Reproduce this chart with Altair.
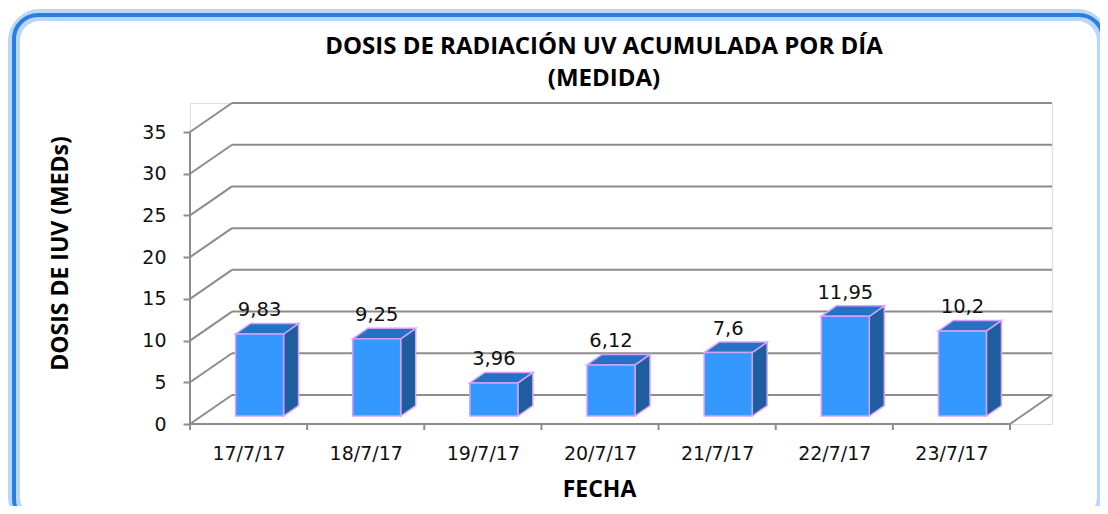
import altair as alt
import pandas as pd

# ---- data ----
fechas = ["17/7/17", "18/7/17", "19/7/17", "20/7/17", "21/7/17", "22/7/17", "23/7/17"]
dosis = [9.83, 9.25, 3.96, 6.12, 7.6, 11.95, 10.2]
etiquetas = ["9,83", "9,25", "3,96", "6,12", "7,6", "11,95", "10,2"]
y_ticks = [0, 5, 10, 15, 20, 25, 30, 35]

titulo = ["DOSIS DE RADIACIÓN UV ACUMULADA POR DÍA", "(MEDIDA)"]
titulo_y = "DOSIS DE IUV (MEDs)"
titulo_x = "FECHA"

# ---- geometry / style constants (pixels) ----
W, H = 862, 321          # plot area incl. the 3D depth
FRONT_W = 820            # width of front plane
FRONT_H = 292            # height of 0..35 on front plane
N = len(fechas)
YTOP = y_ticks[-1]
PXU = FRONT_W / N        # px per x unit
PYU = FRONT_H / YTOP     # px per y unit
XMAX = W / PXU
YMAX = H / PYU

DEPTH_X, DEPTH_Y = 42, 29
dxw, dyw = DEPTH_X / PXU, DEPTH_Y / PYU
BAR_W, BAR_DX, BAR_DY = 48, 11, 8
SIDE_DX, SIDE_DY = 15, 10.5
hw = BAR_W / 2 / PXU
bdx, bdy = BAR_DX / PXU, BAR_DY / PYU
sdx, sdy = SIDE_DX / PXU, SIDE_DY / PYU
TICK_LEN = 6 / PYU

GRID = "#8c8c8c"
FRONT = "#3399ff"
SIDE = "#1f5e9e"
TOP = "#2672c2"
EDGE = "#d7a0ff"
FONT_NUM = "DejaVu Sans"
FONT_T = "Open Sans"

SX = alt.Scale(domain=[0, XMAX], nice=False, zero=False)
SY = alt.Scale(domain=[0, YMAX], nice=False, zero=False)

label_expr = "[" + ",".join("'%s'" % f for f in fechas) + "][round(datum.value - 0.5)]"
AX = alt.Axis(values=[i + 0.5 for i in range(N)], labelExpr=label_expr, tickSize=0,
              domain=False, grid=False, labelFont=FONT_NUM, labelFontSize=19,
              labelColor="#111", labelPadding=20, title=titulo_x, titleFont=FONT_T,
              titleFontSize=23, titleFontWeight="bold", titleColor="#000",
              titleX=409, titleY=65, titleAlign="center", titleBaseline="middle",
              zindex=2)
AY = alt.Axis(values=y_ticks, tickSize=7, tickColor=GRID, tickWidth=2, domain=False,
              grid=False, labelFont=FONT_NUM, labelFontSize=19, labelColor="#111",
              labelPadding=17, title=titulo_y, titleFont=FONT_T, titleFontSize=23,
              titleFontWeight="bold", titleColor="#000", titleAngle=270,
              titleX=-130, titleY=150, titleAlign="center", titleBaseline="middle",
              zindex=2)


def X(f):
    return alt.X(f, type="quantitative", scale=SX, axis=AX)


def Y(f):
    return alt.Y(f, type="quantitative", scale=SY, axis=AY)


# ---- tables ----
grid_df = pd.DataFrame({"x": [dxw] * len(y_ticks), "x2": [N + dxw] * len(y_ticks),
                        "y": [v + dyw for v in y_ticks]})
wall_df = pd.DataFrame({"x": [0.0] * len(y_ticks), "x2": [dxw] * len(y_ticks),
                        "y": [float(v) for v in y_ticks], "y2": [v + dyw for v in y_ticks]})
floor_df = pd.DataFrame({"x": [float(N)], "x2": [N + dxw], "y": [0.0], "y2": [dyw]})
yaxis_df = pd.DataFrame({"x": [0.0], "y": [0.0], "y2": [float(YTOP)]})
xaxis_df = pd.DataFrame({"x": [0.0], "x2": [float(N)], "y": [0.0]})
xtick_df = pd.DataFrame({"x": [float(i) for i in range(N + 1)], "y": [0.0] * (N + 1),
                         "y2": [-TICK_LEN] * (N + 1)})

front_rows, side_rows, top_rows, lab_rows = [], [], [], []
for i, (f, v, t) in enumerate(zip(fechas, dosis, etiquetas)):
    cx = i + 0.5 + bdx
    front_rows.append({"fecha": f, "x": cx - hw, "x2": cx + hw, "y": bdy, "y2": v + bdy})
    side_rows.append({"fecha": f, "x": cx + hw, "y": bdy, "y2": v + bdy})
    side_rows.append({"fecha": f, "x": cx + hw + sdx, "y": bdy + sdy, "y2": v + bdy + sdy})
    top_rows.append({"fecha": f, "y": v + bdy, "x": cx - hw, "x2": cx + hw})
    top_rows.append({"fecha": f, "y": v + bdy + sdy, "x": cx - hw + sdx, "x2": cx + hw + sdx})
    lab_rows.append({"fecha": f, "x": cx, "y": v + bdy + sdy, "t": t})
front_df = pd.DataFrame(front_rows)
side_df = pd.DataFrame(side_rows)
top_df = pd.DataFrame(top_rows)
lab_df = pd.DataFrame(lab_rows)

# ---- layers ----
one = pd.DataFrame({"a": [0]})
frame_glow = alt.Chart(one).mark_rect(
    filled=False, stroke="#9cc6f7", strokeWidth=12, strokeOpacity=0.7, cornerRadius=26
).encode(x=alt.value(-176), x2=alt.value(913), y=alt.value(-88), y2=alt.value(420))
frame = alt.Chart(one).mark_rect(
    filled=False, stroke="#2b7de0", strokeWidth=4, cornerRadius=24
).encode(x=alt.value(-176), x2=alt.value(913), y=alt.value(-88), y2=alt.value(420))

title_style = dict(font=FONT_T, fontSize=24, fontWeight="bold", color="#000",
                   align="center", baseline="alphabetic")
title1 = alt.Chart(one).mark_text(text=titulo[0], **title_style).encode(
    x=alt.value(414), y=alt.value(-49))
title2 = alt.Chart(one).mark_text(text=titulo[1], **title_style).encode(
    x=alt.value(414), y=alt.value(-17))

grid = alt.Chart(grid_df).mark_rule(color=GRID, strokeWidth=2).encode(
    x=X("x"), x2="x2", y=Y("y"))
wall = alt.Chart(wall_df).mark_rule(color=GRID, strokeWidth=2).encode(
    x=X("x"), x2="x2", y=Y("y"), y2="y2")
floor = alt.Chart(floor_df).mark_rule(color=GRID, strokeWidth=2).encode(
    x=X("x"), x2="x2", y=Y("y"), y2="y2")
yaxis = alt.Chart(yaxis_df).mark_rule(color=GRID, strokeWidth=2).encode(
    x=X("x"), y=Y("y"), y2="y2")
xaxis = alt.Chart(xaxis_df).mark_rule(color=GRID, strokeWidth=2).encode(
    x=X("x"), x2="x2", y=Y("y"))
xticks = alt.Chart(xtick_df).mark_rule(color=GRID, strokeWidth=2).encode(
    x=X("x"), y=Y("y"), y2="y2")

side = alt.Chart(side_df).mark_area(orient="vertical", color=SIDE, fill=SIDE, opacity=1,
                                    stroke=EDGE, strokeWidth=1.5).encode(
    x=X("x"), y=Y("y"), y2="y2", detail="fecha:N")
top = alt.Chart(top_df).mark_area(orient="horizontal", color=TOP, fill=TOP, opacity=1,
                                  stroke=EDGE, strokeWidth=1.5).encode(
    y=Y("y"), x=X("x"), x2="x2", detail="fecha:N")
front = alt.Chart(front_df).mark_rect(fill=FRONT, stroke=EDGE, strokeWidth=1.5).encode(
    x=X("x"), x2="x2", y=Y("y"), y2="y2")
labels = alt.Chart(lab_df).mark_text(font=FONT_NUM, fontSize=19.5, color="#111",
                                     baseline="alphabetic", align="center", dy=-7).encode(
    x=X("x"), y=Y("y"), text="t:N")

chart = alt.layer(
    frame_glow, frame, title1, title2, grid, wall, floor, yaxis, xaxis, xticks,
    side, top, front, labels
).properties(
    width=W, height=H,
    padding={"left": 182, "top": 95, "right": 48, "bottom": 82},
    autosize=alt.AutoSizeParams(type="none"),
).configure_view(stroke=None).configure(background="white")

chart.save("out.html", embed_options={"renderer": "svg", "actions": False})
